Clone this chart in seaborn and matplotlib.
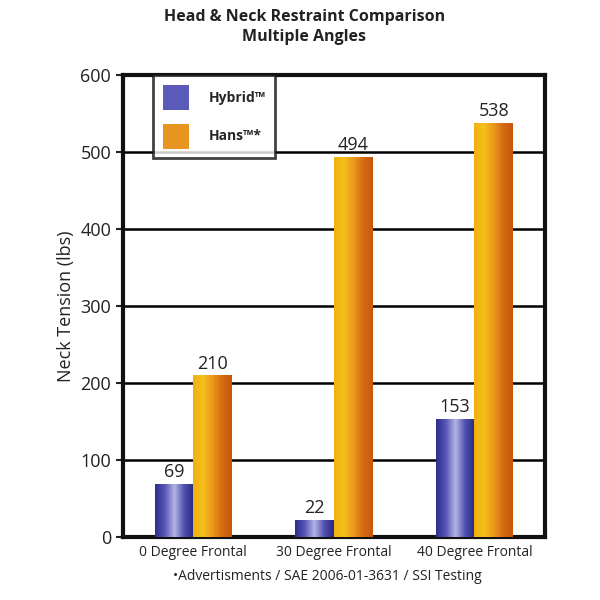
import numpy as np
import pandas as pd
import seaborn as sns
import matplotlib.pyplot as plt
from matplotlib.colors import LinearSegmentedColormap
from matplotlib.patches import Patch

categories = ['0 Degree Frontal', '30 Degree Frontal', '40 Degree Frontal']
hybrid = [69, 22, 153]
hans = [210, 494, 538]
series = ['Hybrid\u2122', 'Hans\u2122*']

df = pd.DataFrame({
    'angle': categories * 2,
    'tension': hybrid + hans,
    'device': [series[0]] * 3 + [series[1]] * 3,
})

sns.set_style('white')
plt.rcParams['font.family'] = ['Open Sans', 'DejaVu Sans']

fig = plt.figure(figsize=(6, 6), dpi=100)
ax = fig.add_axes([0.205, 0.105, 0.703, 0.77])

blue_mid = '#5a5ab8'
orange_mid = '#e89520'
sns.barplot(data=df, x='angle', y='tension', hue='device', palette=[blue_mid, orange_mid],
            width=0.55, gap=0, ax=ax, legend=False, zorder=3, linewidth=0)

ax.set_ylim(0, 600)
ax.set_yticks(range(0, 601, 100))
ax.yaxis.grid(True, color='black', linewidth=1.8, zorder=1)
ax.set_axisbelow(True)
for s in ax.spines.values():
    s.set_linewidth(3)
    s.set_color('#111111')

# cylinder-like gradient fill for each bar
cmaps = [
    LinearSegmentedColormap.from_list('b', ['#2c2c8a', '#5656b6', '#b4b4e4', '#5050b0', '#28287e']),
    LinearSegmentedColormap.from_list('o', ['#f0b010', '#f6c01a', '#eb9a1c', '#d46a12', '#c8560e']),
]
grad = np.linspace(0, 1, 256).reshape(1, -1)
for cont, cmap in zip(ax.containers, cmaps):
    for p in cont.patches:
        x0, y0 = p.get_x(), p.get_y()
        w, h = p.get_width(), p.get_height()
        im = ax.imshow(grad, cmap=cmap, aspect='auto', extent=[x0, x0 + w, y0, y0 + h],
                       zorder=4, interpolation='bicubic')
        im.set_clip_path(p)
    ax.bar_label(cont, fontsize=13, padding=2, color='#222222')

ax.set_xlim(-0.5, 2.5)
ax.set_xlabel('')
ax.set_ylabel('Neck Tension (lbs)', fontsize=13, color='#222222')
ax.tick_params(axis='y', labelsize=13, left=True, length=5, width=1.5, colors='#222222')
ax.tick_params(axis='x', labelsize=10, length=0, pad=6, colors='#222222')

handles = [Patch(facecolor=blue_mid, edgecolor='none'), Patch(facecolor=orange_mid, edgecolor='none')]
leg = ax.legend(handles, series, loc='upper left', bbox_to_anchor=(0.071, 1.0), borderaxespad=0,
                frameon=True, fancybox=False, edgecolor='#111111',
                handlelength=1.9, handleheight=2.4, labelspacing=1.0, borderpad=0.7,
                handletextpad=1.4, prop={'weight': 'bold', 'size': 10})
leg.get_frame().set_linewidth(2)
leg.set_zorder(6)

fig.text(0.507, 0.955, 'Head & Neck Restraint Comparison\nMultiple Angles', ha='center', va='center',
         fontsize=11.5, fontweight='bold', color='#222222', linespacing=1.35)
fig.text(0.545, 0.04, '\u2022Advertisments / SAE 2006-01-3631 / SSI Testing', ha='center', va='center',
         fontsize=10, color='#222222')

fig.savefig('out.png', dpi=100)
